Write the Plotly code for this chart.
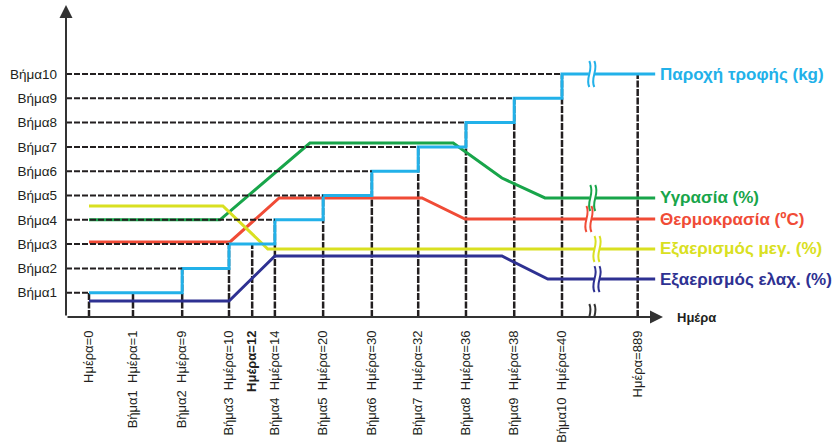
import plotly.graph_objects as go

# ---------------- data ----------------
tick_days = [0, 1, 9, 10, 12, 14, 20, 30, 32, 36, 38, 40, 889]
# schematic (non-linear) axis slot of each tick day
tick_pos = [0, 0.93, 1.97, 2.96, 3.45, 3.93, 4.95, 5.98, 6.96, 7.97, 8.99, 10.0, 11.6]
NB = "\u00a0\u00a0"
tick_text = ["Ημέρα=0", "Βήμα1" + NB + "Ημέρα=1", "Βήμα2" + NB + "Ημέρα=9",
             "Βήμα3" + NB + "Ημέρα=10", "<b>Ημέρα=12</b>", "Βήμα4" + NB + "Ημέρα=14",
             "Βήμα5" + NB + "Ημέρα=20", "Βήμα6" + NB + "Ημέρα=30",
             "Βήμα7" + NB + "Ημέρα=32", "Βήμα8" + NB + "Ημέρα=36",
             "Βήμα9" + NB + "Ημέρα=38", "Βήμα10" + NB + "Ημέρα=40", "Ημέρα=889"]
# height (step level) reached by each tick's vertical guide
tick_level = [1, 1, 2, 3, 3, 4, 5, 6, 7, 8, 9, 10, 10]

step_levels = [1, 2, 3, 4, 5, 6, 7, 8, 9, 10]
step_labels = ["Βήμα1", "Βήμα2", "Βήμα3", "Βήμα4", "Βήμα5",
               "Βήμα6", "Βήμα7", "Βήμα8", "Βήμα9", "Βήμα10"]

# Feed supply: day at which each step starts
feed_days = [0, 9, 10, 14, 20, 30, 32, 36, 38, 40]
feed_levels = [1, 2, 3, 4, 5, 6, 7, 8, 9, 10]

END = 11.97  # end of curves (after the axis break)
hum_x = [0, 2.77, 4.67, 7.70, 8.73, 9.64, END]
hum_y = [4.0, 4.0, 7.16, 7.16, 5.72, 4.90, 4.90]
temp_x = [0, 2.98, 4.02, 7.04, 7.95, END]
temp_y = [3.09, 3.09, 4.90, 4.90, 4.03, 4.03]
vmax_x = [0, 2.83, 3.78, END]
vmax_y = [4.57, 4.57, 2.80, 2.80]
vmin_x = [0, 2.96, 3.93, 8.73, 9.70, END]
vmin_y = [0.66, 0.66, 2.51, 2.51, 1.56, 1.56]

series_names = ["Παροχή τροφής (kg)", "Υγρασία (%)", "Θερμοκρασία (ºC)",
                "Εξαερισμός μεγ. (%)", "Εξαερισμός ελαχ. (%)"]

# ---------------- styling ----------------
C_FEED = "#22b1e9"
C_HUM = "#18a54a"
C_TEMP = "#f04b36"
C_VMAX = "#d9e021"
C_VMIN = "#2e3192"
INK = "#231f20"

PX_X = 47.3   # px per axis slot
PX_Y = 24.3   # px per step level
W, H = 838, 446
ML, MB = 66, 129
x_left = -(89 - ML) / PX_X
x_right = x_left + (W - ML) / PX_X
y_top = (H - MB) / PX_Y

day_to_pos = dict(zip(tick_days, tick_pos))
feed_x = [day_to_pos[d] for d in feed_days] + [END]
feed_y = feed_levels + [feed_levels[-1]]

fig = go.Figure()

def add_line(x, y, color, name, shape="linear"):
    fig.add_trace(go.Scatter(x=x, y=y, mode="lines", name=name,
                             line=dict(color=color, width=3, shape=shape),
                             hoverinfo="skip"))

add_line(hum_x, hum_y, C_HUM, series_names[1])
add_line(temp_x, temp_y, C_TEMP, series_names[2])
add_line(vmax_x, vmax_y, C_VMAX, series_names[3])
add_line(vmin_x, vmin_y, C_VMIN, series_names[4])
add_line(feed_x, feed_y, C_FEED, series_names[0], shape="hv")

shapes = []
# horizontal dashed guides: from y axis to the start of each feed step
for lvl, d in zip(feed_levels, feed_days):
    shapes.append(dict(type="line", xref="x", yref="y", x0=x_left, x1=day_to_pos[d],
                       y0=lvl, y1=lvl, layer="above",
                       line=dict(color=INK, width=2, dash="6px,2px")))
# vertical dashed guides
for p, lvl in zip(tick_pos, tick_level):
    shapes.append(dict(type="line", xref="x", yref="y", x0=p, x1=p, y0=0, y1=lvl,
                       layer="below", line=dict(color=INK, width=2.5, dash="7px,1.5px")))

# break glyphs
def add_break(xpos, ypos, color, lw=2):
    common = dict(type="path", xref="x", yref="y", xsizemode="pixel",
                  ysizemode="pixel", xanchor=xpos, yanchor=ypos, layer="above")
    shapes.append(dict(common, path="M -3,-4 L 3,-4 L 3,4 L -3,4 Z",
                       fillcolor="white", line=dict(width=0)))
    shapes.append(dict(common, path="M -2.5,-13 C -7,-4 2,4 -2.5,13",
                       line=dict(color=color, width=lw)))
    shapes.append(dict(common, path="M 2.5,-13 C -2,-4 7,4 2.5,13",
                       line=dict(color=color, width=lw)))

add_break(10.63, feed_levels[-1], C_FEED)
add_break(10.65, hum_y[-1], C_HUM)
add_break(10.57, temp_y[-1], C_TEMP)
add_break(10.74, vmax_y[-1], C_VMAX)
add_break(10.74, vmin_y[-1], C_VMIN)

annotations = []
# axes with arrows
x_tip = (663 - 89) / PX_X
annotations.append(dict(x=x_tip, y=0, ax=x_left, ay=0, xref="x", yref="y",
                        axref="x", ayref="y", text="", showarrow=True,
                        arrowhead=2, arrowsize=1.3, arrowwidth=2, arrowcolor="#333"))
annotations.append(dict(x=x_left, y=(H - MB - 5) / PX_Y, ax=x_left, ay=0, xref="x",
                        yref="y", axref="x", ayref="y", text="", showarrow=True,
                        arrowhead=2, arrowsize=1.3, arrowwidth=2, arrowcolor="#333"))
add_break(10.63, 0, "#333")

annotations.append(dict(x=(675 - 89) / PX_X, y=0, xref="x", yref="y", text="<b>Ημέρα</b>",
                        showarrow=False, xanchor="left", yanchor="middle",
                        font=dict(size=13, color=INK)))

label_x = (658 - 89) / PX_X
for name, yv, col in zip(series_names,
                         [feed_levels[-1], hum_y[-1], temp_y[-1], vmax_y[-1], vmin_y[-1]],
                         [C_FEED, C_HUM, C_TEMP, C_VMAX, C_VMIN]):
    annotations.append(dict(x=label_x, y=yv, xref="x", yref="y", text="<b>" + name + "</b>",
                            showarrow=False, xanchor="left", yanchor="middle",
                            font=dict(size=17, color=col)))

fig.update_layout(
    width=W, height=H,
    margin=dict(l=ML, r=0, t=0, b=MB),
    paper_bgcolor="white", plot_bgcolor="white",
    showlegend=False,
    font=dict(family="Liberation Sans, Arial, sans-serif", color=INK),
    shapes=shapes, annotations=annotations,
    xaxis=dict(range=[x_left, x_right], tickvals=tick_pos, ticktext=tick_text,
               tickangle=-90, ticks="", showgrid=False, zeroline=False, showline=False,
               tickfont=dict(size=13, color=INK), ticklabelstandoff=10, automargin=False),
    yaxis=dict(range=[0, y_top], tickvals=step_levels, ticktext=step_labels,
               ticks="", showgrid=False, zeroline=False, showline=False,
               tickfont=dict(size=13.5, color=INK), ticklabelstandoff=8, automargin=False),
)

fig.write_html("out.html", config={"displayModeBar": False},
               post_script="document.body.style.margin='0px';")
